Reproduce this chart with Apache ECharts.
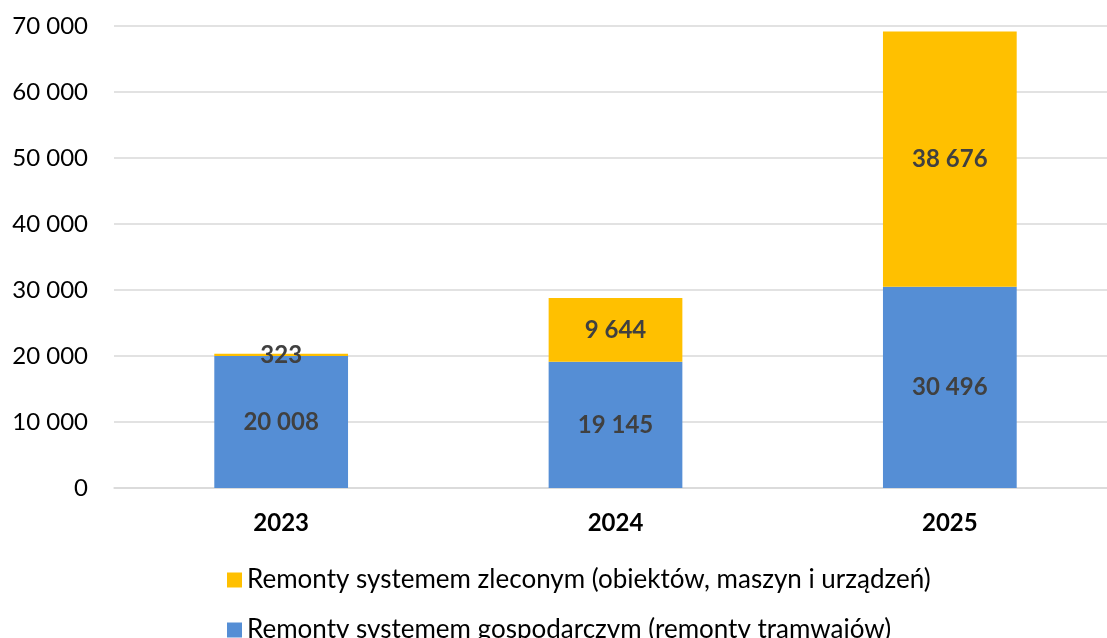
<!DOCTYPE html>
<html>
<head>
<meta charset="utf-8">
<script src="https://cdn.jsdelivr.net/npm/echarts@6/dist/echarts.min.js"></script>
<style>
  html, body { margin: 0; padding: 0; background: #fff; overflow: hidden; }
  #chart { width: 1117px; height: 638px; }
</style>
</head>
<body>
<div id="chart"></div>
<script>
  const years = ['2023', '2024', '2025']
  const gospodarczy = [20008, 19145, 30496]
  const zlecony = [323, 9644, 38676]
  const nameGosp = 'Remonty systemem gospodarczym (remonty tramwajów)'
  const nameZlec = 'Remonty systemem zleconym (obiektów, maszyn i urządzeń)'

  // 20 008 -> spacja jako separator tysięcy
  function fmt(v) {
    return String(v).replace(/\B(?=(\d{3})+(?!\d))/g, ' ')
  }

  const font = 'Lato, "Open Sans", sans-serif'
  const labelStyle = {
    show: true,
    position: 'inside',
    color: '#404040',
    fontFamily: font,
    fontWeight: 'bold',
    fontSize: 24,
    formatter: p => fmt(p.value)
  }
  const legendBase = {
    orient: 'vertical',
    left: 222,
    itemWidth: 15,
    itemHeight: 15,
    icon: 'rect',
    textStyle: { fontFamily: font, fontSize: 26, color: '#000' }
  }

  const chart = echarts.init(document.getElementById('chart'))
  chart.setOption({
    animation: false,
    grid: {
      left: 114,
      right: 0,
      top: 26,
      bottom: 150,
      containLabel: false
    },
    legend: [
      Object.assign({}, legendBase, { top: 562, data: [nameZlec] }),
      Object.assign({}, legendBase, { top: 612, data: [nameGosp] })
    ],
    xAxis: {
      type: 'category',
      data: years,
      axisLine: { lineStyle: { color: '#d9d9d9', width: 1.5 } },
      axisTick: { show: false },
      axisLabel: {
        color: '#000',
        fontFamily: font,
        fontWeight: 'bold',
        fontSize: 24,
        margin: 23
      }
    },
    yAxis: {
      type: 'value',
      min: 0,
      max: 70000,
      interval: 10000,
      axisLine: { show: false },
      axisTick: { show: false },
      splitLine: { lineStyle: { color: '#d9d9d9', width: 1.5 } },
      axisLabel: {
        color: '#000',
        fontFamily: font,
        fontSize: 24,
        margin: 26,
        formatter: v => fmt(v)
      }
    },
    series: [
      {
        name: nameGosp,
        type: 'bar',
        stack: 'total',
        barWidth: '40%',
        data: gospodarczy,
        itemStyle: { color: '#558ED5' },
        label: labelStyle
      },
      {
        name: nameZlec,
        type: 'bar',
        stack: 'total',
        data: zlecony,
        itemStyle: { color: '#FFC000' },
        label: labelStyle
      }
    ]
  })
</script>
</body>
</html>
